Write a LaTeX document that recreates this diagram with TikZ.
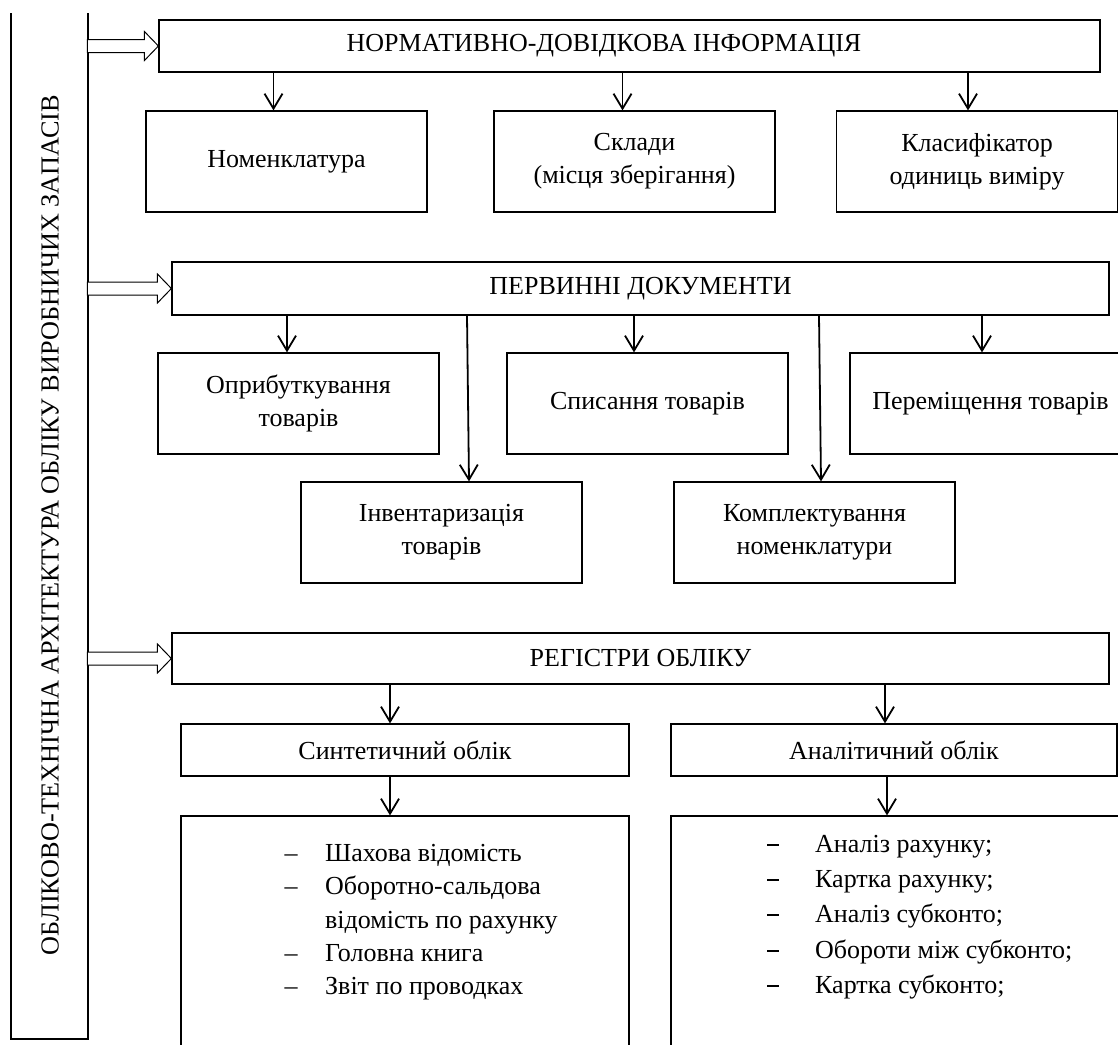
\documentclass[tikz,border=0pt]{standalone}
\usepackage{fontspec}
\setmainfont{Liberation Serif}
\usetikzlibrary{arrows.meta,calc}
\newcommand\mainsz{\fontsize{26}{33}\selectfont}
\begin{document}
\begin{tikzpicture}[x=1pt,y=-1pt,
  box/.style={draw, line width=1.2pt, inner sep=0pt, align=center, font=\mainsz},
  conn/.style={line width=1.8pt, -{Straight Barb[length=15pt,width=18pt]}},
  hol/.style={draw, line width=1pt, fill=white, line join=miter},
  txt/.style={inner sep=0pt, font=\mainsz}
]
\useasboundingbox (0,0) rectangle (1118,1044);
\fill[white] (0,0) rectangle (1118,1044);

% left frame
\draw[line width=1.2pt] (11,13) -- (11,1039) -- (88,1039) -- (88,13);
\node[txt, rotate=90, anchor=base] (title) at (58.5,525)
  {\resizebox{860pt}{\height}{ОБЛІКОВО-ТЕХНІЧНА АРХІТЕКТУРА ОБЛІКУ ВИРОБНИЧИХ ЗАПАСІВ}};

% section 1
\node[box, minimum width=941, minimum height=52] (top) at (629.5,46) {};
\node[txt] (toplbl) at (604,46) {НОРМАТИВНО-ДОВІДКОВА ІНФОРМАЦІЯ};
\draw[hol] (top.west) -- ++(-14,-14.5) -- ++(0,8) -- ++(-57,0) -- ++(0,13) -- ++(57,0) -- ++(0,8) -- cycle;
\node[box, minimum width=281, minimum height=101] (nom) at (286.5,161.5) {Номенклатура};
\node[box, minimum width=281, minimum height=101] (skl) at (634.5,161.5) {Склади\\(місця зберігання)};
\node[box, minimum width=281, minimum height=101] (kls) at (977,161.5) {Класифікатор\\одиниць виміру};
\draw[conn] ($(nom.north |- top.south)+(-13,0)$) -- ($(nom.north)+(-13,0)$);
\draw[conn] ($(skl.north |- top.south)+(-12,0)$) -- ($(skl.north)+(-12,0)$);
\draw[conn] ($(kls.north |- top.south)+(-9,0)$) -- ($(kls.north)+(-9,0)$);

% section 2
\node[box, minimum width=937, minimum height=53] (perv) at (640.5,288.5) {ПЕРВИННІ ДОКУМЕНТИ};
\draw[hol] (perv.west) -- ++(-14,-14.5) -- ++(0,8) -- ++(-70,0) -- ++(0,13) -- ++(70,0) -- ++(0,8) -- cycle;
\node[box, minimum width=281, minimum height=101] (opr) at (298.5,403.5) {Оприбуткування\\товарів};
\node[box, minimum width=281, minimum height=101] (spys) at (647.5,403.5) {Списання товарів};
\node[box, minimum width=281, minimum height=101] (perem) at (990.5,403.5) {Переміщення товарів};
\node[box, minimum width=281, minimum height=101] (inv) at (441.5,532.5) {Інвентаризація\\товарів};
\node[box, minimum width=281, minimum height=101] (kompl) at (814.5,532.5) {Комплектування\\номенклатури};
\draw[conn] ($(opr.north |- perv.south)+(-11.5,0)$) -- ($(opr.north)+(-11.5,0)$);
\draw[conn] ($(spys.north |- perv.south)+(-13.5,0)$) -- ($(spys.north)+(-13.5,0)$);
\draw[conn] ($(perem.north |- perv.south)+(-8.5,0)$) -- ($(perem.north)+(-8.5,0)$);
\draw[conn] ($(inv.north |- perv.south)+(25.5,0)$) -- ($(inv.north)+(27.5,0)$);
\draw[conn] ($(kompl.north |- perv.south)+(4.5,0)$) -- ($(kompl.north)+(6.5,0)$);

% section 3
\node[box, minimum width=937, minimum height=51] (reg) at (640.5,658.5) {РЕГІСТРИ ОБЛІКУ};
\draw[hol] (reg.west) -- ++(-14,-14.5) -- ++(0,8) -- ++(-70,0) -- ++(0,13) -- ++(70,0) -- ++(0,8) -- cycle;
\node[box, minimum width=448, minimum height=52] (syn) at (405,750) {Синтетичний облік};
\node[box, minimum width=446, minimum height=52] (ana) at (894,750) {Аналітичний облік};
\node[box, minimum width=448, minimum height=250] (synl) at (405,941) {};
\node[box, minimum width=460, minimum height=250] (anal) at (901,941) {};
\draw[conn] ($(syn.north |- reg.south)+(-15,0)$) -- ($(syn.north)+(-15,0)$);
\draw[conn] ($(ana.north |- reg.south)+(-9,0)$) -- ($(ana.north)+(-9,0)$);
\draw[conn] ($(syn.south)+(-15,0)$) -- ($(syn.south |- synl.north)+(-15,0)$);
\draw[conn] ($(ana.south)+(-7,0)$) -- ($(ana.south |- anal.north)+(-7,0)$);

% lists
\foreach \i/\yy/\t/\d in {1/861/Шахова відомість/1, 2/894/Оборотно-сальдова/1, 3/928/відомість по рахунку/0, 4/961/Головна книга/1, 5/994/Звіт по проводках/1}{
  \node[txt, anchor=base west] (sl\i) at (325,\yy) {\t};
  \ifnum\d=1 \node[txt, anchor=base] (sd\i) at (291,\yy) {–};\fi
}
\foreach \i/\yy/\t in {1/852/Аналіз рахунку;, 2/887/Картка рахунку;, 3/922/Аналіз субконто;, 4/958/Обороти між субконто;, 5/993/Картка субконто;}{
  \node[txt, anchor=base west] (al\i) at (815,\yy) {\t};
  \node[txt, anchor=base] (ad\i) at (773,\yy) {\rule[6pt]{12pt}{1.8pt}};
}
\end{tikzpicture}
\end{document}
